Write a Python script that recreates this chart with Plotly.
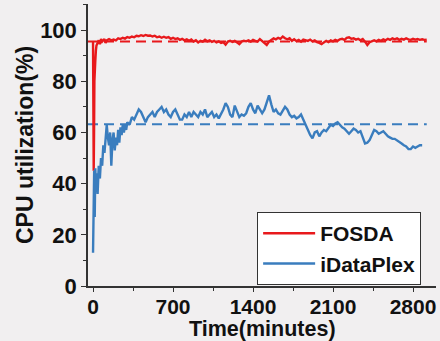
import plotly.graph_objects as go

# FOSDA (red) CPU utilization
fosda_t = [0, 3, 6, 9, 12, 15, 20, 25, 30, 40, 50, 60, 70, 80, 90, 100, 110, 120, 140, 160, 180, 200,
           220, 240, 260, 280, 300, 320, 340, 360, 380, 400, 420, 440, 460, 480, 500, 520, 540, 560,
           580, 600, 620, 640, 660, 680, 700, 720, 740, 760, 780, 800, 820, 840, 860, 880, 900, 920,
           940, 960, 980, 1000, 1020, 1040, 1060, 1080, 1100, 1120, 1140, 1160, 1180, 1200, 1220,
           1240, 1260, 1280, 1300, 1320, 1340, 1360, 1380, 1400, 1420, 1440, 1460, 1480, 1500, 1520,
           1540, 1560, 1580, 1600, 1620, 1640, 1660, 1680, 1700, 1720, 1740, 1760, 1780, 1800, 1820,
           1840, 1860, 1880, 1900, 1920, 1940, 1960, 1980, 2000, 2020, 2040, 2060, 2080, 2100, 2120,
           2140, 2160, 2180, 2200, 2220, 2240, 2260, 2280, 2300, 2320, 2340, 2360, 2380, 2400, 2420,
           2440, 2460, 2480, 2500, 2520, 2540, 2560, 2580, 2600, 2620, 2640, 2660, 2680, 2700, 2720,
           2740, 2760, 2780, 2800, 2820, 2840, 2860, 2880, 2900, 2920]
fosda_v = [95.5, 70, 45, 60, 80, 86, 88, 92, 94, 95, 96, 94.5, 96.5, 95.5, 96, 96.5, 95, 96, 96.5, 96,
           96.3, 96, 96.8, 96.5, 97, 96.7, 97.3, 97, 97.5, 97.2, 97.8, 97.6, 98, 97.7, 98.1, 97.8,
           97.9, 97.5, 97.8, 97.2, 97.5, 97, 97.4, 97, 97.3, 96.6, 97, 96.5, 96.8, 96.2, 96.6, 96,
           96.4, 95.8, 96.3, 95.5, 96, 95.2, 95.8, 95.5, 96.2, 95.6, 96, 95.4, 95.8, 95.2, 95.6, 95,
           95.3, 94.3, 95.5, 95.8, 95.4, 95.8, 95.2, 94.5, 95.5, 95.8, 95.6, 96, 95.5, 96.2, 95.8,
           95.5, 96.5, 95.8, 95, 94.2, 95.5, 96.2, 96.8, 96.4, 97, 96.6, 97.5, 96.8, 96.4, 96.8,
           95.8, 96.4, 95.7, 96.2, 95.5, 96.3, 96, 95.8, 96.3, 95.6, 96, 95.3, 95, 94.5, 95.2, 95.8,
           95.3, 96, 95.6, 96.2, 95.8, 96.4, 96.6, 96.2, 97, 97.2, 96.6, 96.8, 96.3, 96.6, 96, 96.5,
           95.5, 94.2, 95.3, 95.8, 96, 95.6, 96.2, 95.8, 96.4, 96, 96.6, 96.2, 96.8, 96.4, 96.8,
           96.2, 96.6, 96.3, 96.8, 96.4, 96.2, 96.6, 96.3, 96.5, 96.2, 96.4, 96.2, 96.3]

# iDataPlex (blue) CPU utilization
idp_t = [0, 5, 10, 15, 20, 25, 30, 40, 50, 60, 70, 80, 90, 100, 110, 120, 130, 140, 150, 160, 170,
         180, 190, 200, 210, 220, 230, 240, 250, 260, 270, 280, 290, 300, 320, 340, 360, 380, 400,
         420, 440, 460, 480, 500, 520, 540, 560, 580, 600, 620, 640, 660, 680, 700, 720, 740, 760,
         780, 800, 820, 840, 860, 880, 900, 920, 940, 960, 980, 1000, 1020, 1040, 1060, 1080, 1100,
         1120, 1140, 1160, 1180, 1200, 1220, 1240, 1260, 1280, 1300, 1320, 1340, 1360, 1380, 1400,
         1420, 1440, 1460, 1480, 1500, 1520, 1540, 1560, 1580, 1600, 1620, 1640, 1660, 1680, 1700,
         1720, 1740, 1760, 1780, 1800, 1820, 1840, 1860, 1880, 1900, 1920, 1940, 1960, 1980, 2000,
         2020, 2040, 2060, 2080, 2100, 2120, 2140, 2160, 2180, 2200, 2220, 2240, 2260, 2280, 2300,
         2320, 2340, 2360, 2380, 2400, 2420, 2440, 2460, 2480, 2500, 2520, 2540, 2560, 2580, 2600,
         2620, 2640, 2660, 2680, 2700, 2720, 2740, 2760, 2780, 2800, 2820, 2840, 2860, 2880]
idp_v = [13, 30, 45, 27, 46, 38, 44, 36, 47, 42, 50, 47, 55, 52, 60, 63, 58, 55, 60, 47, 57, 60, 53,
         58, 55, 61, 56, 62, 59, 63, 60, 63, 61, 64, 63, 66, 65, 67, 69, 68, 66, 64, 66, 67, 68, 66,
         68, 69, 70, 68, 69, 67, 66, 68, 69, 67, 65, 65, 67, 66, 68, 66, 68, 67, 66, 68, 67, 69, 66,
         67, 68, 66, 67, 65.5, 67, 69, 71.5, 70, 67, 66, 70.5, 68, 66, 67, 66.5, 67.5, 70, 71.5, 69,
         67.5, 70.5, 69, 67.5, 69, 72, 74.5, 71, 68, 69, 67.5, 67, 68.5, 70, 69, 67, 66, 66.5, 65.5,
         66, 67, 65, 62.5, 61, 59, 57.7, 60, 60.5, 58.5, 60, 61, 60.5, 62, 63, 62.5, 63.5, 64, 63,
         62, 61.5, 60.5, 59.5, 60.5, 61.5, 61, 60, 60.5, 58, 55.7, 56, 57, 59, 61, 60.5, 59.5, 60,
         60.5, 59.5, 58.5, 58, 57.5, 57.5, 57, 56.5, 55.7, 55, 54.5, 53.5, 53.5, 54.5, 54, 54.5, 55, 55]

# Mean reference (dashed) lines
mean_t = [-44, 2920]
fosda_mean = [95.5, 95.5]
idp_mean = [63.2, 63.2]

x_ticks = [0, 700, 1400, 2100, 2800]
y_ticks = [0, 20, 40, 60, 80, 100]

RED = "#E8191C"
BLUE = "#3A7DBE"
BG = "#F1EFF0"
FONT = "Liberation Sans, Arial, sans-serif"

fig = go.Figure()
fig.add_trace(go.Scatter(x=mean_t, y=fosda_mean, mode="lines", showlegend=False,
                         line=dict(color=RED, width=2, dash="10px,6px")))
fig.add_trace(go.Scatter(x=mean_t, y=idp_mean, mode="lines", showlegend=False,
                         line=dict(color=BLUE, width=2, dash="10px,6px")))
fig.add_trace(go.Scatter(x=fosda_t, y=fosda_v, mode="lines", name="FOSDA",
                         line=dict(color=RED, width=2.4)))
fig.add_trace(go.Scatter(x=idp_t, y=idp_v, mode="lines", name="iDataPlex",
                         line=dict(color=BLUE, width=2.4)))

fig.update_layout(
    width=440, height=341,
    margin=dict(l=88, r=4, t=4, b=55),
    paper_bgcolor=BG, plot_bgcolor=BG,
    font=dict(family=FONT, color="#111111"),
    showlegend=True,
    legend=dict(x=0.486, y=0.262, xanchor="left", yanchor="top",
                bgcolor="white", bordercolor="#333333", borderwidth=1,
                font=dict(size=21, family=FONT, weight="bold", color="#111111"),
                tracegroupgap=0, itemwidth=52),
    xaxis=dict(range=[-44, 3001], tickvals=x_ticks, ticks="outside", ticklen=4, tickwidth=1,
               tickcolor="#333333", showline=True, linecolor="#333333", linewidth=1.5,
               showgrid=False, zeroline=False, ticklabelstandoff=-3,
               tickfont=dict(size=21, family=FONT, weight="bold", color="#111111"),
               minor=dict(dtick=350, tick0=0, ticks="outside", ticklen=3, tickcolor="#333333")),
    yaxis=dict(range=[0, 110.2], tickvals=y_ticks, ticks="outside", ticklen=5, tickwidth=1,
               tickcolor="#333333", showline=True, linecolor="#333333", linewidth=1.5,
               showgrid=False, zeroline=False,
               tickfont=dict(size=22, family=FONT, weight="bold", color="#111111"),
               minor=dict(dtick=10, tick0=0, ticks="outside", ticklen=3, tickcolor="#333333")),
    annotations=[
        dict(text="Time(minutes)", xref="paper", yref="paper", x=0.501, y=0, yshift=-42.5,
             xanchor="center", yanchor="middle", showarrow=False,
             font=dict(size=21.5, family=FONT, weight="bold", color="#111111")),
        dict(text="CPU utilization(%)", xref="paper", yref="paper", x=0, xshift=-63, y=0.5,
             xanchor="center", yanchor="middle", textangle=-90, showarrow=False,
             font=dict(size=23, family=FONT, weight="bold", color="#111111")),
    ],
)

fig.write_html("out.html")
